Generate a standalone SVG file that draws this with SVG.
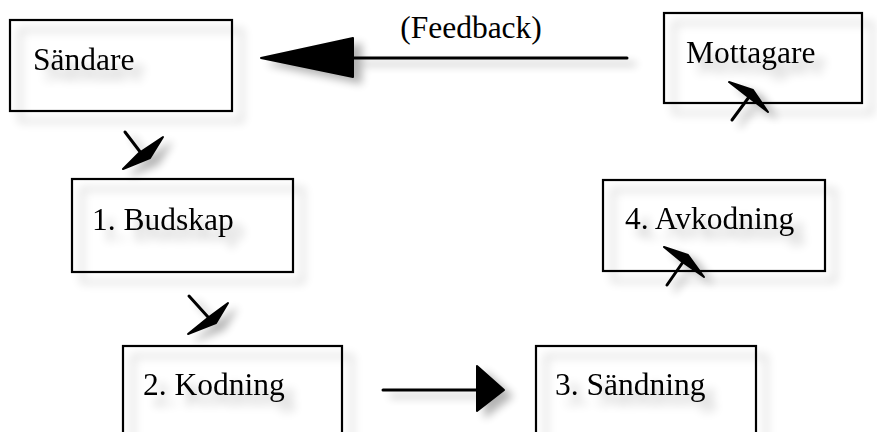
<svg xmlns="http://www.w3.org/2000/svg" width="877" height="432" viewBox="0 0 877 432">
<defs>
<filter id="sh" x="-20%" y="-20%" width="150%" height="160%">
<feGaussianBlur in="SourceAlpha" stdDeviation="5"/>
<feOffset dx="10" dy="10" result="b"/>
<feComponentTransfer in="b" result="s"><feFuncA type="linear" slope="0.25"/></feComponentTransfer>
<feMerge><feMergeNode in="s"/><feMergeNode in="SourceGraphic"/></feMerge>
</filter>
<filter id="ash" x="-50%" y="-50%" width="200%" height="200%">
<feGaussianBlur in="SourceAlpha" stdDeviation="4"/>
<feOffset dx="8" dy="6" result="b"/>
<feComponentTransfer in="b" result="s"><feFuncA type="linear" slope="0.3"/></feComponentTransfer>
<feMerge><feMergeNode in="s"/><feMergeNode in="SourceGraphic"/></feMerge>
</filter>
</defs>
<style>
.box{fill:none;stroke:#000;stroke-width:2.2}
.t{font-family:"Liberation Serif","Times New Roman",serif;font-size:31.5px;fill:#000}
.ln{stroke:#000;stroke-width:3;fill:none;stroke-linecap:round}
.hd{fill:#000;stroke:#000;stroke-width:2;stroke-linejoin:round}
</style>
<rect width="877" height="432" fill="#fff"/>
<g id="sandare" filter="url(#sh)">
<rect class="box" x="10" y="20" width="222" height="91"/>
<text class="t" x="33" y="70">Sändare</text>
</g>
<g id="budskap" filter="url(#sh)">
<rect class="box" x="72" y="179" width="221" height="93"/>
<text class="t" x="92" y="230">1. Budskap</text>
</g>
<g id="kodning" filter="url(#sh)">
<rect class="box" x="123" y="346" width="219" height="110"/>
<text class="t" x="143" y="395">2. Kodning</text>
</g>
<g id="sandning" filter="url(#sh)">
<rect class="box" x="536" y="346" width="220" height="110"/>
<text class="t" x="555" y="395">3. Sändning</text>
</g>
<g id="avkodning" filter="url(#sh)">
<rect class="box" x="603" y="180" width="222" height="91"/>
<text class="t" x="625" y="229">4. Avkodning</text>
</g>
<g id="mottagare" filter="url(#sh)">
<rect class="box" x="664" y="13" width="198" height="90"/>
<text class="t" x="686" y="63">Mottagare</text>
</g>
<g id="feedback-label">
<text class="t" x="471" y="38" text-anchor="middle">(Feedback)</text>
</g>
<g id="connectors" filter="url(#ash)">
<line class="ln" x1="627" y1="58" x2="350" y2="58"/>
<polygon class="hd" points="261,58 353,38 353,77"/>
<line class="ln" x1="383" y1="390" x2="478" y2="390"/>
<polygon class="hd" points="504,390 477,366 477,411"/>
<line class="ln" x1="125" y1="132" x2="141" y2="153"/>
<polygon class="hd" points="163,137 150,158 123,169 139,153"/>
<line class="ln" x1="189" y1="296" x2="208" y2="317"/>
<polygon class="hd" points="228,303 216,323 188,334 209,317"/>
<line class="ln" x1="667" y1="285" x2="683" y2="262"/>
<polygon class="hd" points="664,247 688,255 704,277 681,261"/>
<line class="ln" x1="732" y1="120" x2="749" y2="97"/>
<polygon class="hd" points="729,82 753,90 768,112 747,96"/>
</g>
</svg>
